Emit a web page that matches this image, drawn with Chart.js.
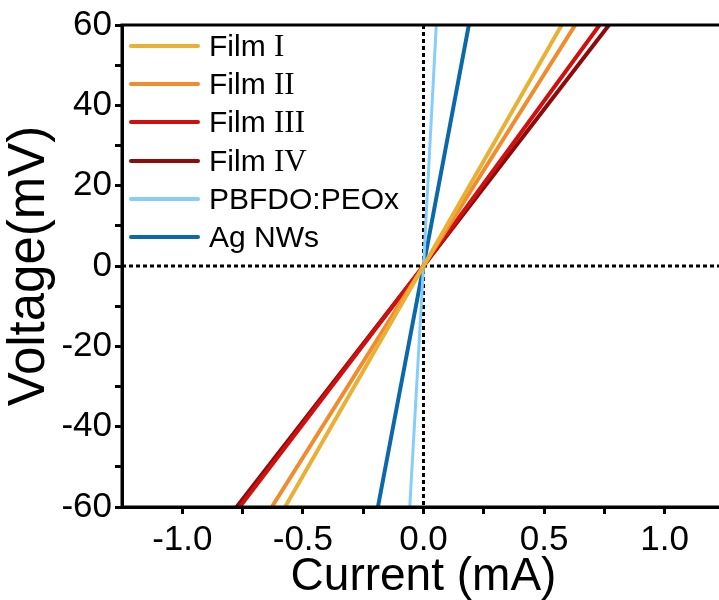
<!DOCTYPE html>
<html>
<head>
<meta charset="utf-8">
<script src="https://cdn.jsdelivr.net/npm/chart.js@4/dist/chart.umd.min.js"></script>
<style>
  body { margin: 0; overflow: hidden; background: #fff; }
  #wrap { position: relative; width: 740px; height: 600px; }
  #legend { position: absolute; left: 129px; top: 27px; font-family: "Liberation Sans", Arial, sans-serif; font-size: 30px; color: #000; }
  .row { display: flex; align-items: center; height: 38.2px; }
  .swatch { width: 71px; height: 4px; border-radius: 2px; margin-right: 9px; }
  .num { font-family: "Liberation Serif", "Times New Roman", serif; font-size: 31px; }
</style>
</head>
<body>
<div id="wrap">
  <canvas id="myChart" width="740" height="600"></canvas>
  <div id="legend"></div>
</div>
<script>
// voltage (mV) where each current was read
var voltages = [-60, 0, 60];

var seriesNames = ["Film I", "Film II", "Film III", "Film IV", "PBFDO:PEOx", "Ag NWs"];
var seriesColors = ["#E9B033", "#F28A2E", "#D0100F", "#8C0B0B", "#86CDFA", "#0B69AA"];
var seriesWidths = [4, 4, 4, 4, 3, 4];

// current (mA) at -60, 0, 60 mV
var filmI = [-0.574, 0, 0.573];
var filmII = [-0.629, 0, 0.629];
var filmIII = [-0.762, 0, 0.730];
var filmIV = [-0.775, 0, 0.769];
var pbfdo = [-0.057, 0, 0.053];
var agNWs = [-0.189, 0, 0.188];
var seriesCurrents = [filmI, filmII, filmIII, filmIV, pbfdo, agNWs];

var xMin = -1.25, xMax = 1.25, xStep = 0.25;
var xLabelTicks = [-1.0, -0.5, 0.0, 0.5, 1.0];
var yMin = -60, yMax = 60, yStep = 10;
var yLabelTicks = [-60, -40, -20, 0, 20, 40, 60];

var datasets = [];
for (let i = 0; i < seriesNames.length; i++) {
    let pts = [];
    for (let j = 0; j < voltages.length; j++) {
        pts.push({ x: seriesCurrents[i][j], y: voltages[j] });
    }
    datasets.push({
        label: seriesNames[i],
        data: pts,
        borderColor: seriesColors[i],
        backgroundColor: seriesColors[i],
        borderWidth: seriesWidths[i],
        pointRadius: 0,
        showLine: true,
        tension: 0
    });
}

// legend as html so the roman numerals can be serif
var legendHtml = "";
for (let i = 0; i < seriesNames.length; i++) {
    let name = seriesNames[i];
    let m = name.match(/^(Film )([IV]+)$/);
    let text = m ? m[1] + '<span class="num">' + m[2] + '</span>' : name;
    legendHtml += '<div class="row"><div class="swatch" style="background:' + seriesColors[i] + '"></div><span>' + text + '</span></div>';
}
document.getElementById("legend").innerHTML = legendHtml;

function isIn(v, list) {
    for (let k = 0; k < list.length; k++) {
        if (Math.abs(v - list[k]) < 1e-6) return true;
    }
    return false;
}

var zeroLines = {
    id: 'zeroLines',
    beforeDatasetsDraw(chart) {
        const ctx = chart.ctx;
        const a = chart.chartArea;
        const x0 = chart.scales.x.getPixelForValue(0);
        const y0 = chart.scales.y.getPixelForValue(0);
        ctx.save();
        ctx.strokeStyle = '#000';
        ctx.lineWidth = 3;
        ctx.setLineDash([4, 3]);
        ctx.beginPath();
        ctx.moveTo(x0, a.top);
        ctx.lineTo(x0, a.bottom);
        ctx.moveTo(a.left, y0);
        ctx.lineTo(a.right, y0);
        ctx.stroke();
        ctx.restore();
    },
    afterDraw(chart) {
        const ctx = chart.ctx;
        const a = chart.chartArea;
        ctx.save();
        ctx.strokeStyle = '#000';
        ctx.lineWidth = 3;
        ctx.strokeRect(a.left, a.top, a.right - a.left, a.bottom - a.top);
        ctx.restore();
    }
};

var ctx = document.getElementById('myChart').getContext('2d');
var myChart = new Chart(ctx, {
    type: 'scatter',
    data: { datasets: datasets },
    options: {
        responsive: false,
        animation: false,
        layout: { padding: { top: 25, right: 15, left: 0, bottom: 0 } },
        plugins: { legend: { display: false }, tooltip: { enabled: false } },
        scales: {
            x: {
                type: 'linear',
                min: xMin,
                max: xMax,
                afterFit: function (scale) { scale.height = 93; },
                border: { display: true, color: '#000', width: 3 },
                grid: {
                    drawOnChartArea: false,
                    drawTicks: true,
                    tickLength: 7,
                    tickWidth: 3,
                    tickColor: function (c) {
                        let v = c.tick ? c.tick.value : 0;
                        return (Math.abs(v) > 1.2) ? 'rgba(0,0,0,0)' : '#000';
                    }
                },
                ticks: {
                    stepSize: xStep,
                    autoSkip: false,
                    maxRotation: 0,
                    padding: 5,
                    color: '#000',
                    font: { family: '"Liberation Sans", Arial, sans-serif', size: 35 },
                    callback: function (value) {
                        if (!isIn(value, xLabelTicks)) return '';
                        if (Math.abs(value) < 1e-9) return '0.0';
                        return value.toFixed(1);
                    }
                },
                title: {
                    display: true,
                    text: 'Current (mA)',
                    color: '#000',
                    padding: { top: 0, bottom: 0 },
                    font: { family: '"Liberation Sans", Arial, sans-serif', size: 46, lineHeight: 1 }
                }
            },
            y: {
                type: 'linear',
                min: yMin,
                max: yMax,
                afterFit: function (scale) { scale.width = 122; },
                border: { display: true, color: '#000', width: 3 },
                grid: {
                    drawOnChartArea: false,
                    drawTicks: true,
                    tickLength: 7,
                    tickWidth: 3,
                    tickColor: '#000'
                },
                ticks: {
                    stepSize: yStep,
                    autoSkip: false,
                    padding: 3,
                    color: '#000',
                    font: { family: '"Liberation Sans", Arial, sans-serif', size: 35 },
                    callback: function (value) {
                        if (!isIn(value, yLabelTicks)) return '';
                        return String(Math.round(value));
                    }
                },
                title: {
                    display: true,
                    text: 'Voltage(mV)',
                    color: '#000',
                    padding: { top: 4, bottom: 0 },
                    font: { family: '"Liberation Sans", Arial, sans-serif', size: 51, lineHeight: 1 }
                }
            }
        }
    },
    plugins: [zeroLines]
});
</script>
</body>
</html>
